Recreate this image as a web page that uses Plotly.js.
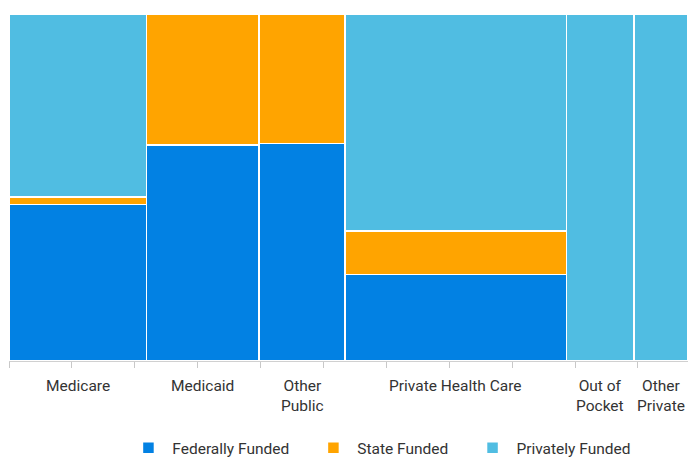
<!DOCTYPE html>
<html>
<head>
<meta charset="utf-8">
<script src="https://cdn.plot.ly/plotly-3.0.1.min.js"></script>
<style>html,body{margin:0;padding:0;background:#fff;}#chart{width:688px;height:457px;}</style>
</head>
<body>
<div id="chart"></div>
<script>
// Spending by payer (width of each column) and funding shares (%) within each column
const categories = ["Medicare", "Medicaid", "Other<br>Public", "Private Health Care", "Out of<br>Pocket", "Other<br>Private"];
const spending = [547, 447, 342, 880, 269, 214];
const federalShare = [45.1, 62.2, 62.7, 25.0, 0, 0];
const stateShare = [2.2, 37.8, 37.3, 12.4, 0, 0];
const privateShare = [52.7, 0, 0, 62.6, 100, 100];
const seriesNames = ["Federally Funded", "State Funded", "Privately Funded"];
const axisTicks = [0, 250, 500, 750, 1000, 1250, 1500, 1750, 2000, 2250, 2500];

const colors = ["#0281e3", "#ffa400", "#50bde2"];

const lefts = [];
let acc = 0;
spending.forEach(w => { lefts.push(acc); acc += w; });
const total = acc;
const centers = spending.map((w, i) => lefts[i] + w / 2);

const pad = '\u00a0\u00a0\u00a0\u00a0\u00a0';
const shares = [federalShare, stateShare, privateShare];
const traces = shares.map((vals, k) => ({
  type: 'bar',
  name: '\u00a0' + seriesNames[k] + (k < 2 ? pad : ''),
  x: centers,
  y: vals,
  width: spending,
  marker: {color: colors[k], line: {color: '#ffffff', width: 1.5}},
  hoverinfo: 'name+y'
}));

const annotations = categories.map((c, i) => ({
  x: centers[i], xref: 'x',
  y: -0.04, yref: 'paper',
  yanchor: 'top', xanchor: 'center',
  text: c, showarrow: false,
  font: {family: 'Roboto, sans-serif', size: 15.5, color: '#333333'}
}));

const layout = {
  width: 688, height: 457,
  margin: {l: 9, r: 0, t: 14, b: 96, autoexpand: false},
  barmode: 'stack',
  bargap: 0,
  paper_bgcolor: '#ffffff',
  plot_bgcolor: '#ffffff',
  showlegend: true,
  legend: {
    orientation: 'h', x: 0.55, xanchor: 'center', y: -0.202, yanchor: 'top',
    traceorder: 'normal',
    font: {family: 'Roboto, sans-serif', size: 15.5, color: '#333333'}
  },
  xaxis: {
    range: [0, total],
    tickvals: axisTicks,
    ticks: 'outside', ticklen: 6, tickcolor: '#c8c8c8', tickwidth: 1,
    showticklabels: false,
    showline: true, linecolor: '#d0d0d0', linewidth: 1,
    showgrid: false, zeroline: false, fixedrange: true
  },
  yaxis: {
    range: [0, 100],
    visible: false, showgrid: false, zeroline: false, fixedrange: true
  },
  annotations: annotations
};

Plotly.newPlot('chart', traces, layout, {displayModeBar: false, staticPlot: true});
</script>
</body>
</html>
